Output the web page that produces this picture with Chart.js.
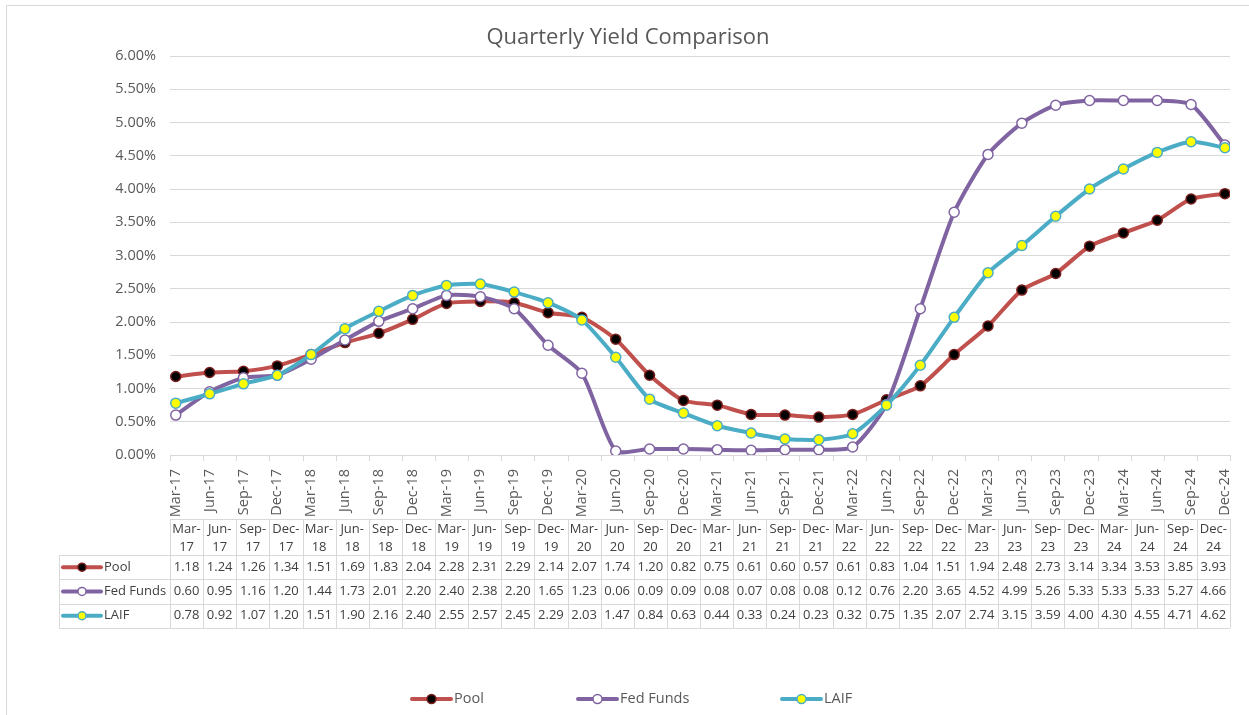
<!DOCTYPE html>
<html>
<head>
<meta charset="utf-8">
<title>Quarterly Yield Comparison</title>
<script src="https://cdn.jsdelivr.net/npm/chart.js@4.4.1/dist/chart.umd.min.js"></script>
<style>
  html, body { margin: 0; padding: 0; background: #fff; }
  #chart { display: block; }
</style>
</head>
<body>
<canvas id="chart" width="1249" height="715"></canvas>
<script>
const quarters = [
  'Mar-17', 'Jun-17', 'Sep-17', 'Dec-17', 'Mar-18', 'Jun-18', 'Sep-18', 'Dec-18',
  'Mar-19', 'Jun-19', 'Sep-19', 'Dec-19', 'Mar-20', 'Jun-20', 'Sep-20', 'Dec-20',
  'Mar-21', 'Jun-21', 'Sep-21', 'Dec-21', 'Mar-22', 'Jun-22', 'Sep-22', 'Dec-22',
  'Mar-23', 'Jun-23', 'Sep-23', 'Dec-23', 'Mar-24', 'Jun-24', 'Sep-24', 'Dec-24',
];
const pool = [
  1.18, 1.24, 1.26, 1.34, 1.51, 1.69, 1.83, 2.04, 2.28, 2.31, 2.29, 2.14, 2.07, 1.74, 1.20, 0.82,
  0.75, 0.61, 0.60, 0.57, 0.61, 0.83, 1.04, 1.51, 1.94, 2.48, 2.73, 3.14, 3.34, 3.53, 3.85, 3.93,
];
const fedFunds = [
  0.60, 0.95, 1.16, 1.20, 1.44, 1.73, 2.01, 2.20, 2.40, 2.38, 2.20, 1.65, 1.23, 0.06, 0.09, 0.09,
  0.08, 0.07, 0.08, 0.08, 0.12, 0.76, 2.20, 3.65, 4.52, 4.99, 5.26, 5.33, 5.33, 5.33, 5.27, 4.66,
];
const laif = [
  0.78, 0.92, 1.07, 1.20, 1.51, 1.90, 2.16, 2.40, 2.55, 2.57, 2.45, 2.29, 2.03, 1.47, 0.84, 0.63,
  0.44, 0.33, 0.24, 0.23, 0.32, 0.75, 1.35, 2.07, 2.74, 3.15, 3.59, 4.00, 4.30, 4.55, 4.71, 4.62,
];
const seriesNames = ['Pool', 'Fed Funds', 'LAIF'];

const FONT = '"Open Sans", "Noto Sans", sans-serif';
const TEXT = '#595959';
const GRID = '#d9d9d9';
const colors = {
  pool: { line: '#C0504D', fill: '#000000', edge: '#7a1f1c' },
  fed: { line: '#8064A2', fill: '#ffffff', edge: '#8064A2' },
  laif: { line: '#4BACC6', fill: '#FFFF00', edge: '#4BACC6' },
};
const styles = [colors.pool, colors.fed, colors.laif];
const seriesData = [pool, fedFunds, laif];

function toPoints(arr) {
  return arr.map((v, i) => ({ x: i, y: v }));
}

function drawKey(ctx, x1, x2, y, st, r) {
  ctx.save();
  ctx.strokeStyle = st.line;
  ctx.lineWidth = 4;
  ctx.lineCap = 'round';
  ctx.beginPath();
  ctx.moveTo(x1, y);
  ctx.lineTo(x2, y);
  ctx.stroke();
  ctx.beginPath();
  ctx.arc((x1 + x2) / 2, y, r, 0, Math.PI * 2);
  ctx.fillStyle = st.fill;
  ctx.fill();
  ctx.lineWidth = 1.5;
  ctx.strokeStyle = st.edge;
  ctx.stroke();
  ctx.restore();
}

// title, border, data table and legend drawn around the plot
const extras = {
  id: 'extras',
  afterDraw(chart) {
    const ctx = chart.ctx;
    const area = chart.chartArea;
    const n = quarters.length;
    const colW = (area.right - area.left) / n;

    ctx.save();
    // outer border
    ctx.strokeStyle = GRID;
    ctx.lineWidth = 1;
    ctx.strokeRect(6.5, 5.5, 1260, 730);

    // title
    ctx.fillStyle = TEXT;
    ctx.font = '22px ' + FONT;
    ctx.textAlign = 'center';
    ctx.textBaseline = 'middle';
    ctx.fillText('Quarterly Yield Comparison', 628, 38);

    // axis tick marks at column edges
    ctx.strokeStyle = GRID;
    ctx.beginPath();
    for (let i = 0; i <= n; i++) {
      const x = Math.round(area.left + i * colW) + 0.5;
      ctx.moveTo(x, area.bottom);
      ctx.lineTo(x, area.bottom + 6);
    }
    ctx.stroke();

    // data table
    const headTop = 519;
    const rowTop = 555;
    const rowH = 24.3;
    const tableLeft = 59;
    const bottom = rowTop + rowH * 3;
    ctx.beginPath();
    ctx.moveTo(area.left, headTop + 0.5);
    ctx.lineTo(area.right, headTop + 0.5);
    for (let r = 0; r <= 3; r++) {
      const y = Math.round(rowTop + r * rowH) + 0.5;
      ctx.moveTo(tableLeft, y);
      ctx.lineTo(area.right, y);
    }
    for (let i = 0; i <= n; i++) {
      const x = Math.round(area.left + i * colW) + 0.5;
      ctx.moveTo(x, headTop);
      ctx.lineTo(x, bottom);
    }
    ctx.moveTo(tableLeft + 0.5, rowTop);
    ctx.lineTo(tableLeft + 0.5, bottom);
    ctx.stroke();

    ctx.font = '13px ' + FONT;
    ctx.fillStyle = '#404040';
    ctx.textAlign = 'center';
    quarters.forEach((q, i) => {
      const cx = area.left + (i + 0.5) * colW;
      const parts = q.split('-');
      ctx.fillText(parts[0] + '-', cx, 529);
      ctx.fillText(parts[1], cx, 547);
      seriesData.forEach((arr, r) => {
        ctx.fillText(arr[i].toFixed(2), cx, rowTop + (r + 0.5) * rowH);
      });
    });
    ctx.textAlign = 'left';
    seriesNames.forEach((name, r) => {
      const y = rowTop + (r + 0.5) * rowH;
      drawKey(ctx, 63, 101, y, styles[r], 4);
      ctx.fillStyle = '#404040';
      ctx.fillText(name, 104, y);
    });

    // legend
    const legendX = [412, 578, 782];
    ctx.font = '14.5px ' + FONT;
    seriesNames.forEach((name, r) => {
      drawKey(ctx, legendX[r], legendX[r] + 39, 699, styles[r], 4.5);
      ctx.fillStyle = TEXT;
      ctx.fillText(name, legendX[r] + 42, 699);
    });
    ctx.restore();
  },
};

const lineSet = (label, arr, st, order) => ({
  label,
  data: toPoints(arr),
  borderColor: st.line,
  borderWidth: 4,
  pointRadius: 5,
  pointBorderWidth: 1.5,
  pointBackgroundColor: st.fill,
  pointBorderColor: st.edge,
  tension: 0.22,
  order,
});

new Chart(document.getElementById('chart'), {
  type: 'line',
  data: {
    datasets: [
      lineSet('Pool', pool, colors.pool, 3),
      lineSet('Fed Funds', fedFunds, colors.fed, 2),
      lineSet('LAIF', laif, colors.laif, 1),
    ],
  },
  options: {
    responsive: false,
    animation: false,
    layout: { padding: { top: 56, right: 19, bottom: 0, left: 0 } },
    plugins: {
      legend: { display: false },
      title: { display: false },
      tooltip: { enabled: false },
    },
    scales: {
      x: {
        type: 'linear',
        min: -0.17,
        max: 31.15,
        afterBuildTicks: (scale) => { scale.ticks = quarters.map((q, i) => ({ value: i })); },
        afterFit: (scale) => { scale.height = 260; },
        grid: { display: false },
        border: { display: true, color: GRID },
        ticks: {
          autoSkip: false,
          minRotation: 90,
          maxRotation: 90,
          padding: 6,
          color: TEXT,
          font: { family: FONT, size: 14.5 },
          callback: (v) => quarters[v],
        },
      },
      y: {
        min: 0,
        max: 6,
        afterFit: (scale) => { scale.width = 170; },
        grid: { color: GRID, drawTicks: false },
        border: { display: false },
        ticks: {
          stepSize: 0.5,
          padding: 14,
          color: TEXT,
          font: { family: FONT, size: 14.5 },
          callback: (v) => v.toFixed(2) + '%',
        },
      },
    },
  },
  plugins: [extras],
});
</script>
</body>
</html>
